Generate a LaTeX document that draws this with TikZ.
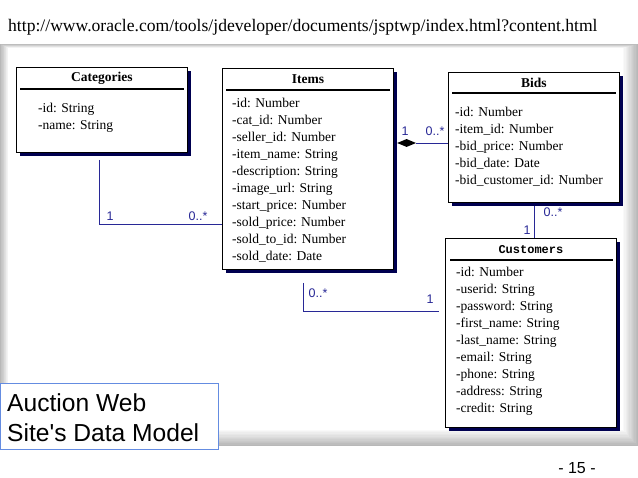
\documentclass[tikz,border=0pt]{standalone}
\usepackage{fontspec}
\setmainfont{Liberation Serif}
\newfontfamily\sansf{Liberation Sans}
\newfontfamily\monof{Liberation Mono}
\usetikzlibrary{shapes.geometric,shadows,calc}
\definecolor{linkc}{RGB}{40,40,150}
\definecolor{shadc}{RGB}{0,0,80}
\definecolor{auctc}{RGB}{100,140,225}
\begin{document}
\begin{tikzpicture}[x=1pt,y=-1pt,
  umlbox/.style={draw=black, line width=0.9pt, fill=white, anchor=north west, inner sep=0pt,
    minimum width=171pt, drop shadow={shadow xshift=3.5pt, shadow yshift=-3.5pt, fill=shadc, opacity=1}},
  ttl/.style={font=\bfseries\fontsize{13.5}{15}\selectfont, inner sep=0pt},
  ttlrule/.style={line width=1.1pt, black},
  attrs/.style={font=\fontsize{13.5}{17}\selectfont, align=left, anchor=north west, inner sep=0pt},
  conn/.style={draw=linkc, line width=0.8pt},
  mult/.style={text=linkc, font=\sansf\fontsize{12.5}{13}\selectfont, inner sep=0pt}
]
\useasboundingbox (0,0) rectangle (638,478);
\fill[white] (0,0) rectangle (638,478);
% background panel with soft grey border
\foreach \i in {0,...,12} {
  \pgfmathsetmacro\g{28-\i*28/12}
  \fill[black!\g!white] (\i*0.7, 44+\i*0.35) rectangle (638-\i*1.25, 446-\i*1.35);
}
% URL
\node[font=\fontsize{17.6}{18}\selectfont, anchor=west, inner sep=0pt] (url) at (8,27)
  {http://www.oracle.com/tools/jdeveloper/documents/jsptwp/index.html?content.html};

% class boxes
\node[umlbox, minimum height=85pt]  (cat)   at (16,67)  {};
\node[umlbox, minimum height=201pt] (items) at (222,68) {};
\node[umlbox, minimum height=130pt] (bids)  at (448,72) {};
\node[umlbox, minimum height=189pt] (cust)  at (445,238) {};

% titles
\node[ttl] (catT)   at ($(cat.north)+(0,11)$)   {Categories};
\node[ttl] (itemsT) at ($(items.north)+(0,11)$) {Items};
\node[ttl] (bidsT)  at ($(bids.north)+(0,11)$)  {Bids};
\node[font=\monof\bfseries\fontsize{12}{14}\selectfont, inner sep=0pt] (custT) at ($(cust.north)+(0,12)$) {Customers};

\draw[ttlrule] ($(cat.north west)+(4,22)$) -- ($(cat.north east)+(-4,22)$);
\draw[ttlrule] ($(items.north west)+(4,22)$) -- ($(items.north east)+(-4,22)$);
\draw[ttlrule] ($(bids.north west)+(4,21)$) -- ($(bids.north east)+(-4,21)$);
\draw[ttlrule] ($(cust.north west)+(5,22)$) -- ($(cust.north east)+(-4,22)$);

% attributes
\node[attrs] (catA) at (38,103.4) {-id: String\\-name: String};
\node[attrs] (itemsA) at (232,98.4) {-id: Number\\-cat\_id: Number\\-seller\_id: Number\\-item\_name: String\\-description: String\\-image\_url: String\\-start\_price: Number\\-sold\_price: Number\\-sold\_to\_id: Number\\-sold\_date: Date};
\node[attrs] (bidsA) at (455,107.4) {-id: Number\\-item\_id: Number\\-bid\_price: Number\\-bid\_date: Date\\-bid\_customer\_id: Number};
\node[attrs] (custA) at (456,267.4) {-id: Number\\-userid: String\\-password: String\\-first\_name: String\\-last\_name: String\\-email: String\\-phone: String\\-address: String\\-credit: String};

% Categories -- Items
\coordinate (k1) at (99,224);
\draw[conn] ($(cat.south -| k1)+(0,7)$) -- (k1) -- (items.west |- k1);
\node[mult] (m1) at (110,216) {1};
\node[mult] (m2) at (198,216) {0..*};

% Items -- Bids (composition)
\node[diamond, fill=black, minimum width=19pt, minimum height=8pt, inner sep=0pt, anchor=west] (dia)
  at ($(items.east |- 0,143)+(3,0)$) {};
\draw[conn] (dia.east) -- (bids.west |- dia.east);
\node[mult] (m3) at (405,131) {1};
\node[mult] (m4) at (435,131) {0..*};

% Bids -- Customers
\coordinate (k3) at (534,0);
\draw[conn] ($(bids.south -| k3)+(0,3)$) -- (cust.north -| k3);
\node[mult] (m5) at (553,212) {0..*};
\node[mult] (m6) at (527,230) {1};

% Items -- Customers
\coordinate (k2) at (303,311);
\draw[conn] ($(items.south -| k2)+(0,13)$) -- (k2) -- ($(cust.west |- k2)+(-6,0)$);
\node[mult] (m7) at (318,293) {0..*};
\node[mult] (m8) at (430,299) {1};

% caption box
\node[draw=auctc, line width=0.8pt, fill=white, anchor=north west, minimum width=218pt, minimum height=66pt, inner sep=0pt] (auct) at (0,383) {};
\node[font=\sansf\fontsize{24.6}{30}\selectfont, align=left, anchor=north west, inner sep=0pt] (auctT)
  at ($(auct.north west)+(7,10)$) {Auction Web\\Site's Data Model};

% page number
\node[font=\sansf\fontsize{16}{16}\selectfont, inner sep=0pt] (pg) at (577,468) {- 15 -};
\end{tikzpicture}
\end{document}
